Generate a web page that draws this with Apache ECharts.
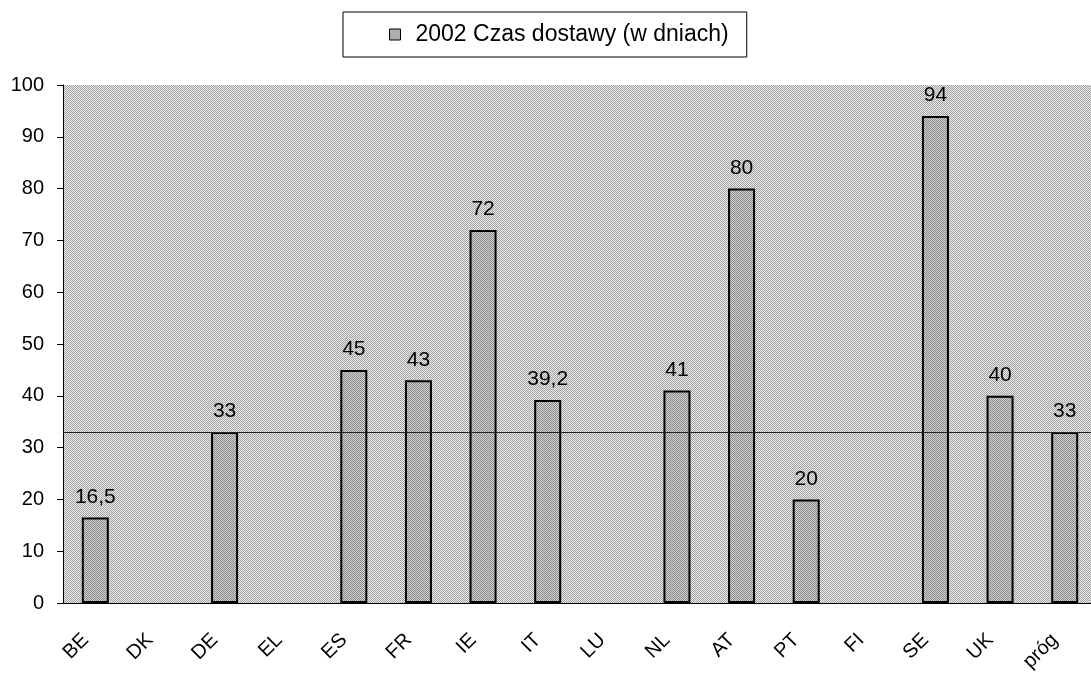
<!DOCTYPE html>
<html><head><meta charset="utf-8">
<script src="https://cdn.jsdelivr.net/npm/echarts@6/dist/echarts.min.js"></script>
<style>html,body{margin:0;padding:0;background:#fff;overflow:hidden;width:1091px;height:677px}#c{width:1097px;height:677px}</style>
</head><body><div id="c"></div>
<script>
const categories = ['BE','DK','DE','EL','ES','FR','IE','IT','LU','NL','AT','PT','FI','SE','UK','próg'];
const values = [16.5, null, 33, null, 45, 43, 72, 39.2, null, 41, 80, 20, null, 94, 40, 33];
const threshold = 33;
const seriesName = '2002 Czas dostawy (w dniach)';

function pattern(a, b) {
  const c = document.createElement('canvas');
  c.width = 2; c.height = 2;
  const g = c.getContext('2d');
  g.fillStyle = b; g.fillRect(0,0,2,2);
  g.fillStyle = a; g.fillRect(0,0,1,1); g.fillRect(1,1,1,1);
  return {image: c, repeat: 'repeat'};
}
const bgPat = pattern('#a0a0a0', '#ececec');
const barPat = pattern('#8a8a8a', '#d2d2d2');

const chart = echarts.init(document.getElementById('c'), null, {renderer: 'canvas'});
const font = 'Liberation Sans, Arial, sans-serif';
chart.setOption({
  animation: false,
  textStyle: {fontFamily: font},
  legend: {
    data: [seriesName],
    top: 12, left: 343,
    borderColor: '#000', borderWidth: 1,
    padding: [11, 18, 11, 46],
    itemWidth: 11, itemHeight: 11, itemGap: 14,
    textStyle: {fontSize: 23, color: '#000', fontFamily: font, padding: [0, 0, 0, 10]},
    icon: 'rect',
    itemStyle: {borderColor: '#000', borderWidth: 1}
  },
  grid: {left: 63, right: 0, top: 85, bottom: 74, show: true, backgroundColor: bgPat, borderWidth: 0},
  xAxis: {
    type: 'category', data: categories,
    axisLine: {lineStyle: {color: '#000', width: 1}},
    axisTick: {length: 6, lineStyle: {color: '#000'}},
    axisLabel: {rotate: 45, fontSize: 20, color: '#000', margin: 24, padding: [0, 14, 0, 0], fontFamily: font}
  },
  yAxis: {
    type: 'value', min: 0, max: 100, interval: 10,
    axisLine: {show: true, lineStyle: {color: '#000', width: 1}},
    axisTick: {show: true, length: 6, lineStyle: {color: '#000'}},
    splitLine: {show: false},
    axisLabel: {fontSize: 20, color: '#000', margin: 19, fontFamily: font}
  },
  series: [{
    name: seriesName, type: 'bar', data: values, barWidth: 27,
    itemStyle: {color: barPat, borderColor: '#000', borderWidth: 2},
    label: {show: true, position: 'top', distance: 10, fontSize: 21, color: '#000', fontFamily: font,
      formatter: p => String(p.value).replace('.', ',')},
    markLine: {
      silent: true, symbol: 'none',
      lineStyle: {color: '#222', width: 1, type: 'solid'},
      label: {show: false},
      data: [{yAxis: threshold}]
    }
  }]
});
</script></body></html>
